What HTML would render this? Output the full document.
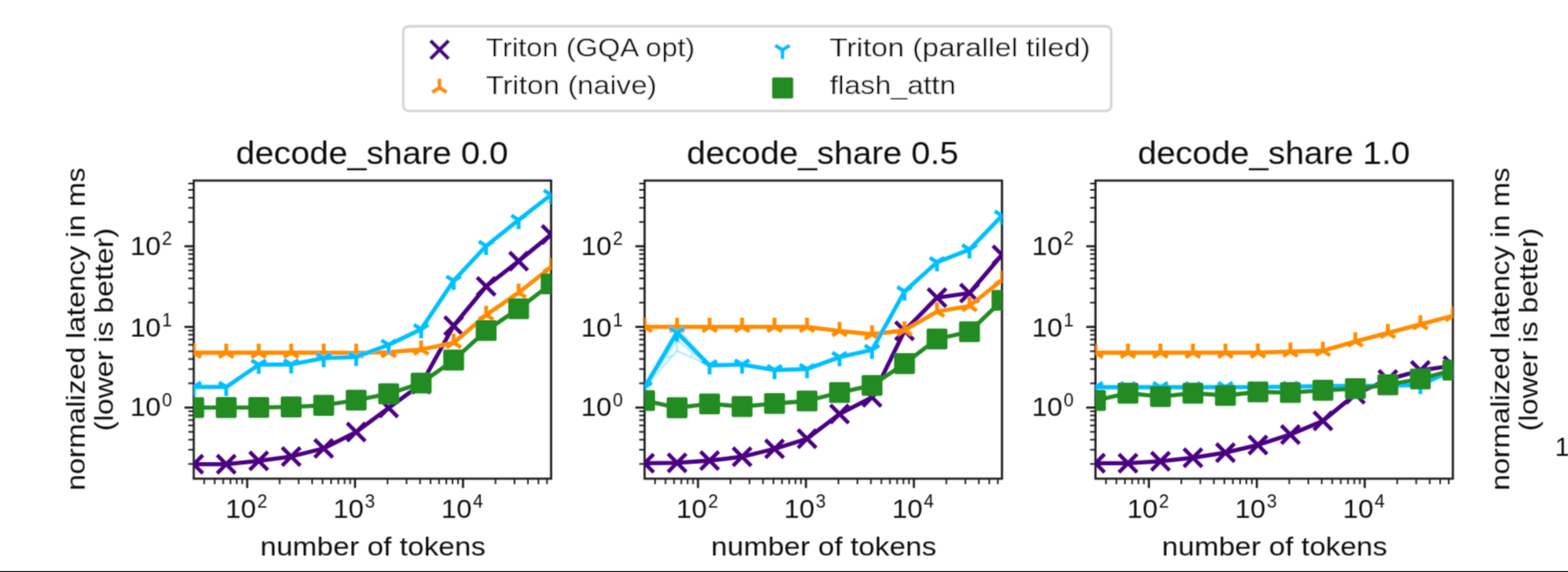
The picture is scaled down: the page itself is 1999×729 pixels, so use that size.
<!DOCTYPE html>
<html><head><meta charset="utf-8"><title>chart</title>
<style>html,body{margin:0;padding:0;background:#fff;overflow:hidden;font-family:"Liberation Sans",sans-serif}svg{display:block}svg text{font-family:"Liberation Sans",sans-serif;fill:#111}</style></head>
<body><svg width="1999" height="729" viewBox="0 0 1999 729">
<rect width="1999" height="729" fill="#fff"/>
<rect x="0" y="727.8" width="1999" height="2" fill="#000"/>
<filter id="bl" filterUnits="userSpaceOnUse" x="-20" y="-20" width="2040" height="770"><feConvolveMatrix order="3" kernelMatrix="0.0529 0.1242 0.0529 0.1242 0.2916 0.1242 0.0529 0.1242 0.0529" edgeMode="none"/></filter>
<g filter="url(#bl)">
<rect x="514.05" y="33.5" width="902.7" height="107.8" rx="6.6" ry="6.6" fill="#fff" stroke="#d6d6d6" stroke-width="3.3"/>
<path d="M548.8 51.8L572 75M548.8 75L572 51.8" stroke="#4B0082" stroke-width="4.9" fill="none"/>
<path d="M560.3 111.8L560.3 100.2M560.3 111.8L569.58 117.6M560.3 111.8L551.02 117.6" stroke="#FF8C00" stroke-width="4.9" fill="none"/>
<path d="M997.6 63.6L997.6 75.2M997.6 63.6L1006.88 57.8M997.6 63.6L988.32 57.8" stroke="#00BFFF" stroke-width="4.9" fill="none"/>
<rect x="984.2" y="98.5" width="27.2" height="27.2" rx="2.2" fill="#228B22"/>
<text x="619.6" y="71.8" font-size="33.3" textLength="266.4" lengthAdjust="spacingAndGlyphs">Triton (GQA opt)</text>
<text x="619.6" y="119.8" font-size="33.3" textLength="217.9" lengthAdjust="spacingAndGlyphs">Triton (naive)</text>
<text x="1057.5" y="71.8" font-size="33.3" textLength="332.5" lengthAdjust="spacingAndGlyphs">Triton (parallel tiled)</text>
<text x="1057.9" y="119.8" font-size="33.3" textLength="160.6" lengthAdjust="spacingAndGlyphs">flash_attn</text>
<path d="M235.2 519.45H247" stroke="#1a1a1a" stroke-width="2.7"/><path d="M235.2 416.65H247" stroke="#1a1a1a" stroke-width="2.7"/><path d="M235.2 313.85H247" stroke="#1a1a1a" stroke-width="2.7"/><path d="M240.1 591.3H247" stroke="#1a1a1a" stroke-width="2"/><path d="M240.1 573.2H247" stroke="#1a1a1a" stroke-width="2"/><path d="M240.1 560.36H247" stroke="#1a1a1a" stroke-width="2"/><path d="M240.1 550.4H247" stroke="#1a1a1a" stroke-width="2"/><path d="M240.1 542.26H247" stroke="#1a1a1a" stroke-width="2"/><path d="M240.1 535.37H247" stroke="#1a1a1a" stroke-width="2"/><path d="M240.1 529.41H247" stroke="#1a1a1a" stroke-width="2"/><path d="M240.1 524.15H247" stroke="#1a1a1a" stroke-width="2"/><path d="M240.1 488.5H247" stroke="#1a1a1a" stroke-width="2"/><path d="M240.1 470.4H247" stroke="#1a1a1a" stroke-width="2"/><path d="M240.1 457.56H247" stroke="#1a1a1a" stroke-width="2"/><path d="M240.1 447.6H247" stroke="#1a1a1a" stroke-width="2"/><path d="M240.1 439.46H247" stroke="#1a1a1a" stroke-width="2"/><path d="M240.1 432.57H247" stroke="#1a1a1a" stroke-width="2"/><path d="M240.1 426.61H247" stroke="#1a1a1a" stroke-width="2"/><path d="M240.1 421.35H247" stroke="#1a1a1a" stroke-width="2"/><path d="M240.1 385.7H247" stroke="#1a1a1a" stroke-width="2"/><path d="M240.1 367.6H247" stroke="#1a1a1a" stroke-width="2"/><path d="M240.1 354.76H247" stroke="#1a1a1a" stroke-width="2"/><path d="M240.1 344.8H247" stroke="#1a1a1a" stroke-width="2"/><path d="M240.1 336.66H247" stroke="#1a1a1a" stroke-width="2"/><path d="M240.1 329.77H247" stroke="#1a1a1a" stroke-width="2"/><path d="M240.1 323.81H247" stroke="#1a1a1a" stroke-width="2"/><path d="M240.1 318.55H247" stroke="#1a1a1a" stroke-width="2"/><path d="M240.1 282.9H247" stroke="#1a1a1a" stroke-width="2"/><path d="M240.1 264.8H247" stroke="#1a1a1a" stroke-width="2"/><path d="M240.1 251.96H247" stroke="#1a1a1a" stroke-width="2"/><path d="M240.1 242H247" stroke="#1a1a1a" stroke-width="2"/><path d="M240.1 233.86H247" stroke="#1a1a1a" stroke-width="2"/><path d="M315.09 610.05V621.85" stroke="#1a1a1a" stroke-width="2.7"/><path d="M452.67 610.05V621.85" stroke="#1a1a1a" stroke-width="2.7"/><path d="M590.26 610.05V621.85" stroke="#1a1a1a" stroke-width="2.7"/><path d="M260.33 610.05V617.05" stroke="#1a1a1a" stroke-width="2"/><path d="M273.67 610.05V617.05" stroke="#1a1a1a" stroke-width="2"/><path d="M284.56 610.05V617.05" stroke="#1a1a1a" stroke-width="2"/><path d="M293.77 610.05V617.05" stroke="#1a1a1a" stroke-width="2"/><path d="M301.75 610.05V617.05" stroke="#1a1a1a" stroke-width="2"/><path d="M308.79 610.05V617.05" stroke="#1a1a1a" stroke-width="2"/><path d="M356.5 610.05V617.05" stroke="#1a1a1a" stroke-width="2"/><path d="M380.73 610.05V617.05" stroke="#1a1a1a" stroke-width="2"/><path d="M397.92 610.05V617.05" stroke="#1a1a1a" stroke-width="2"/><path d="M411.26 610.05V617.05" stroke="#1a1a1a" stroke-width="2"/><path d="M422.15 610.05V617.05" stroke="#1a1a1a" stroke-width="2"/><path d="M431.36 610.05V617.05" stroke="#1a1a1a" stroke-width="2"/><path d="M439.34 610.05V617.05" stroke="#1a1a1a" stroke-width="2"/><path d="M446.38 610.05V617.05" stroke="#1a1a1a" stroke-width="2"/><path d="M494.09 610.05V617.05" stroke="#1a1a1a" stroke-width="2"/><path d="M518.32 610.05V617.05" stroke="#1a1a1a" stroke-width="2"/><path d="M535.51 610.05V617.05" stroke="#1a1a1a" stroke-width="2"/><path d="M548.84 610.05V617.05" stroke="#1a1a1a" stroke-width="2"/><path d="M559.74 610.05V617.05" stroke="#1a1a1a" stroke-width="2"/><path d="M568.95 610.05V617.05" stroke="#1a1a1a" stroke-width="2"/><path d="M576.93 610.05V617.05" stroke="#1a1a1a" stroke-width="2"/><path d="M583.97 610.05V617.05" stroke="#1a1a1a" stroke-width="2"/><path d="M631.68 610.05V617.05" stroke="#1a1a1a" stroke-width="2"/><path d="M655.91 610.05V617.05" stroke="#1a1a1a" stroke-width="2"/><path d="M673.1 610.05V617.05" stroke="#1a1a1a" stroke-width="2"/><path d="M686.43 610.05V617.05" stroke="#1a1a1a" stroke-width="2"/><path d="M697.33 610.05V617.05" stroke="#1a1a1a" stroke-width="2"/>
<rect x="247" y="230.1" width="455.6" height="379.95" fill="none" stroke="#1a1a1a" stroke-width="2.7"/>
<clipPath id="c0"><rect x="247" y="230.1" width="455.6" height="379.95"/></clipPath>
<g clip-path="url(#c0)" stroke-linejoin="round" fill="none">
<polyline points="247,591.6 288.42,591.6 329.84,587.4 371.25,581.8 412.67,571.5 454.09,550.6 495.51,519.8 536.93,489.7 578.35,415.2 619.76,365 661.18,332.8 702.6,298.8" stroke="#4B0082" stroke-width="5.3"/>
<path d="M235.4 580L258.6 603.2M235.4 603.2L258.6 580" stroke="#4B0082" stroke-width="4.9" fill="none"/>
<path d="M276.82 580L300.02 603.2M276.82 603.2L300.02 580" stroke="#4B0082" stroke-width="4.9" fill="none"/>
<path d="M318.24 575.8L341.44 599M318.24 599L341.44 575.8" stroke="#4B0082" stroke-width="4.9" fill="none"/>
<path d="M359.65 570.2L382.85 593.4M359.65 593.4L382.85 570.2" stroke="#4B0082" stroke-width="4.9" fill="none"/>
<path d="M401.07 559.9L424.27 583.1M401.07 583.1L424.27 559.9" stroke="#4B0082" stroke-width="4.9" fill="none"/>
<path d="M442.49 539L465.69 562.2M442.49 562.2L465.69 539" stroke="#4B0082" stroke-width="4.9" fill="none"/>
<path d="M483.91 508.2L507.11 531.4M483.91 531.4L507.11 508.2" stroke="#4B0082" stroke-width="4.9" fill="none"/>
<path d="M525.33 478.1L548.53 501.3M525.33 501.3L548.53 478.1" stroke="#4B0082" stroke-width="4.9" fill="none"/>
<path d="M566.75 403.6L589.95 426.8M566.75 426.8L589.95 403.6" stroke="#4B0082" stroke-width="4.9" fill="none"/>
<path d="M608.16 353.4L631.36 376.6M608.16 376.6L631.36 353.4" stroke="#4B0082" stroke-width="4.9" fill="none"/>
<path d="M649.58 321.2L672.78 344.4M649.58 344.4L672.78 321.2" stroke="#4B0082" stroke-width="4.9" fill="none"/>
<path d="M691 287.2L714.2 310.4M691 310.4L714.2 287.2" stroke="#4B0082" stroke-width="4.9" fill="none"/>
<polyline points="247,449.5 288.42,449.5 329.84,449.5 371.25,449.5 412.67,449.5 454.09,449.7 495.51,448.9 536.93,445.5 578.35,436.9 619.76,401.4 661.18,373 702.6,340.4" stroke="#FF8C00" stroke-width="5.3"/>
<path d="M247 449.5L247 437.9M247 449.5L256.28 455.3M247 449.5L237.72 455.3" stroke="#FF8C00" stroke-width="4.9" fill="none"/>
<path d="M288.42 449.5L288.42 437.9M288.42 449.5L297.7 455.3M288.42 449.5L279.14 455.3" stroke="#FF8C00" stroke-width="4.9" fill="none"/>
<path d="M329.84 449.5L329.84 437.9M329.84 449.5L339.12 455.3M329.84 449.5L320.56 455.3" stroke="#FF8C00" stroke-width="4.9" fill="none"/>
<path d="M371.25 449.5L371.25 437.9M371.25 449.5L380.53 455.3M371.25 449.5L361.97 455.3" stroke="#FF8C00" stroke-width="4.9" fill="none"/>
<path d="M412.67 449.5L412.67 437.9M412.67 449.5L421.95 455.3M412.67 449.5L403.39 455.3" stroke="#FF8C00" stroke-width="4.9" fill="none"/>
<path d="M454.09 449.7L454.09 438.1M454.09 449.7L463.37 455.5M454.09 449.7L444.81 455.5" stroke="#FF8C00" stroke-width="4.9" fill="none"/>
<path d="M495.51 448.9L495.51 437.3M495.51 448.9L504.79 454.7M495.51 448.9L486.23 454.7" stroke="#FF8C00" stroke-width="4.9" fill="none"/>
<path d="M536.93 445.5L536.93 433.9M536.93 445.5L546.21 451.3M536.93 445.5L527.65 451.3" stroke="#FF8C00" stroke-width="4.9" fill="none"/>
<path d="M578.35 436.9L578.35 425.3M578.35 436.9L587.63 442.7M578.35 436.9L569.07 442.7" stroke="#FF8C00" stroke-width="4.9" fill="none"/>
<path d="M619.76 401.4L619.76 389.8M619.76 401.4L629.04 407.2M619.76 401.4L610.48 407.2" stroke="#FF8C00" stroke-width="4.9" fill="none"/>
<path d="M661.18 373L661.18 361.4M661.18 373L670.46 378.8M661.18 373L651.9 378.8" stroke="#FF8C00" stroke-width="4.9" fill="none"/>
<path d="M702.6 340.4L702.6 328.8M702.6 340.4L711.88 346.2M702.6 340.4L693.32 346.2" stroke="#FF8C00" stroke-width="4.9" fill="none"/>
<polyline points="247,493.2 288.42,493.2 329.84,464.9 371.25,464.5 412.67,456.3 454.09,455 495.51,439.5 536.93,419.6 578.35,357.8 619.76,313.5 661.18,280.3 702.6,248.3" stroke="#00BFFF" stroke-width="5.3"/>
<path d="M247 493.2L247 504.8M247 493.2L256.28 487.4M247 493.2L237.72 487.4" stroke="#00BFFF" stroke-width="4.9" fill="none"/>
<path d="M288.42 493.2L288.42 504.8M288.42 493.2L297.7 487.4M288.42 493.2L279.14 487.4" stroke="#00BFFF" stroke-width="4.9" fill="none"/>
<path d="M329.84 464.9L329.84 476.5M329.84 464.9L339.12 459.1M329.84 464.9L320.56 459.1" stroke="#00BFFF" stroke-width="4.9" fill="none"/>
<path d="M371.25 464.5L371.25 476.1M371.25 464.5L380.53 458.7M371.25 464.5L361.97 458.7" stroke="#00BFFF" stroke-width="4.9" fill="none"/>
<path d="M412.67 456.3L412.67 467.9M412.67 456.3L421.95 450.5M412.67 456.3L403.39 450.5" stroke="#00BFFF" stroke-width="4.9" fill="none"/>
<path d="M454.09 455L454.09 466.6M454.09 455L463.37 449.2M454.09 455L444.81 449.2" stroke="#00BFFF" stroke-width="4.9" fill="none"/>
<path d="M495.51 439.5L495.51 451.1M495.51 439.5L504.79 433.7M495.51 439.5L486.23 433.7" stroke="#00BFFF" stroke-width="4.9" fill="none"/>
<path d="M536.93 419.6L536.93 431.2M536.93 419.6L546.21 413.8M536.93 419.6L527.65 413.8" stroke="#00BFFF" stroke-width="4.9" fill="none"/>
<path d="M578.35 357.8L578.35 369.4M578.35 357.8L587.63 352M578.35 357.8L569.07 352" stroke="#00BFFF" stroke-width="4.9" fill="none"/>
<path d="M619.76 313.5L619.76 325.1M619.76 313.5L629.04 307.7M619.76 313.5L610.48 307.7" stroke="#00BFFF" stroke-width="4.9" fill="none"/>
<path d="M661.18 280.3L661.18 291.9M661.18 280.3L670.46 274.5M661.18 280.3L651.9 274.5" stroke="#00BFFF" stroke-width="4.9" fill="none"/>
<path d="M702.6 248.3L702.6 259.9M702.6 248.3L711.88 242.5M702.6 248.3L693.32 242.5" stroke="#00BFFF" stroke-width="4.9" fill="none"/>
<polyline points="247,519.5 288.42,519.4 329.84,519.3 371.25,518.6 412.67,516.6 454.09,510 495.51,501.9 536.93,488.3 578.35,458.9 619.76,421.3 661.18,393.5 702.6,361.8" stroke="#228B22" stroke-width="5.3"/>
<rect x="233.7" y="506.2" width="26.6" height="26.6" rx="2.2" fill="#228B22"/>
<rect x="275.12" y="506.1" width="26.6" height="26.6" rx="2.2" fill="#228B22"/>
<rect x="316.54" y="506" width="26.6" height="26.6" rx="2.2" fill="#228B22"/>
<rect x="357.95" y="505.3" width="26.6" height="26.6" rx="2.2" fill="#228B22"/>
<rect x="399.37" y="503.3" width="26.6" height="26.6" rx="2.2" fill="#228B22"/>
<rect x="440.79" y="496.7" width="26.6" height="26.6" rx="2.2" fill="#228B22"/>
<rect x="482.21" y="488.6" width="26.6" height="26.6" rx="2.2" fill="#228B22"/>
<rect x="523.63" y="475" width="26.6" height="26.6" rx="2.2" fill="#228B22"/>
<rect x="565.05" y="445.6" width="26.6" height="26.6" rx="2.2" fill="#228B22"/>
<rect x="606.46" y="408" width="26.6" height="26.6" rx="2.2" fill="#228B22"/>
<rect x="647.88" y="380.2" width="26.6" height="26.6" rx="2.2" fill="#228B22"/>
<rect x="689.3" y="348.5" width="26.6" height="26.6" rx="2.2" fill="#228B22"/>
</g>
<text x="474.4" y="209" font-size="40" text-anchor="middle" textLength="347.2" lengthAdjust="spacingAndGlyphs">decode_share 0.0</text>
<text x="475.4" y="707.6" font-size="33" text-anchor="middle" textLength="287.3" lengthAdjust="spacingAndGlyphs">number of tokens</text>
<text x="166" y="324.9" font-size="33" textLength="39" lengthAdjust="spacingAndGlyphs">10</text>
<text x="206.5" y="312.1" font-size="23">2</text>
<text x="166" y="429" font-size="33" textLength="39" lengthAdjust="spacingAndGlyphs">10</text>
<text x="206.5" y="415.8" font-size="23">1</text>
<text x="166" y="529.8" font-size="33" textLength="39" lengthAdjust="spacingAndGlyphs">10</text>
<text x="206.5" y="518.1" font-size="23">0</text>
<text x="287.5" y="659.5" font-size="33" textLength="39" lengthAdjust="spacingAndGlyphs">10</text>
<text x="328" y="646.7" font-size="23">2</text>
<text x="424.8" y="659.5" font-size="33" textLength="39" lengthAdjust="spacingAndGlyphs">10</text>
<text x="465.3" y="646.7" font-size="23">3</text>
<text x="562.5" y="659.5" font-size="33" textLength="39" lengthAdjust="spacingAndGlyphs">10</text>
<text x="603" y="646.7" font-size="23">4</text>
<path d="M810 519.45H821.8" stroke="#1a1a1a" stroke-width="2.7"/><path d="M810 416.65H821.8" stroke="#1a1a1a" stroke-width="2.7"/><path d="M810 313.85H821.8" stroke="#1a1a1a" stroke-width="2.7"/><path d="M814.9 591.3H821.8" stroke="#1a1a1a" stroke-width="2"/><path d="M814.9 573.2H821.8" stroke="#1a1a1a" stroke-width="2"/><path d="M814.9 560.36H821.8" stroke="#1a1a1a" stroke-width="2"/><path d="M814.9 550.4H821.8" stroke="#1a1a1a" stroke-width="2"/><path d="M814.9 542.26H821.8" stroke="#1a1a1a" stroke-width="2"/><path d="M814.9 535.37H821.8" stroke="#1a1a1a" stroke-width="2"/><path d="M814.9 529.41H821.8" stroke="#1a1a1a" stroke-width="2"/><path d="M814.9 524.15H821.8" stroke="#1a1a1a" stroke-width="2"/><path d="M814.9 488.5H821.8" stroke="#1a1a1a" stroke-width="2"/><path d="M814.9 470.4H821.8" stroke="#1a1a1a" stroke-width="2"/><path d="M814.9 457.56H821.8" stroke="#1a1a1a" stroke-width="2"/><path d="M814.9 447.6H821.8" stroke="#1a1a1a" stroke-width="2"/><path d="M814.9 439.46H821.8" stroke="#1a1a1a" stroke-width="2"/><path d="M814.9 432.57H821.8" stroke="#1a1a1a" stroke-width="2"/><path d="M814.9 426.61H821.8" stroke="#1a1a1a" stroke-width="2"/><path d="M814.9 421.35H821.8" stroke="#1a1a1a" stroke-width="2"/><path d="M814.9 385.7H821.8" stroke="#1a1a1a" stroke-width="2"/><path d="M814.9 367.6H821.8" stroke="#1a1a1a" stroke-width="2"/><path d="M814.9 354.76H821.8" stroke="#1a1a1a" stroke-width="2"/><path d="M814.9 344.8H821.8" stroke="#1a1a1a" stroke-width="2"/><path d="M814.9 336.66H821.8" stroke="#1a1a1a" stroke-width="2"/><path d="M814.9 329.77H821.8" stroke="#1a1a1a" stroke-width="2"/><path d="M814.9 323.81H821.8" stroke="#1a1a1a" stroke-width="2"/><path d="M814.9 318.55H821.8" stroke="#1a1a1a" stroke-width="2"/><path d="M814.9 282.9H821.8" stroke="#1a1a1a" stroke-width="2"/><path d="M814.9 264.8H821.8" stroke="#1a1a1a" stroke-width="2"/><path d="M814.9 251.96H821.8" stroke="#1a1a1a" stroke-width="2"/><path d="M814.9 242H821.8" stroke="#1a1a1a" stroke-width="2"/><path d="M814.9 233.86H821.8" stroke="#1a1a1a" stroke-width="2"/><path d="M889.89 610.05V621.85" stroke="#1a1a1a" stroke-width="2.7"/><path d="M1027.47 610.05V621.85" stroke="#1a1a1a" stroke-width="2.7"/><path d="M1165.06 610.05V621.85" stroke="#1a1a1a" stroke-width="2.7"/><path d="M835.13 610.05V617.05" stroke="#1a1a1a" stroke-width="2"/><path d="M848.47 610.05V617.05" stroke="#1a1a1a" stroke-width="2"/><path d="M859.36 610.05V617.05" stroke="#1a1a1a" stroke-width="2"/><path d="M868.57 610.05V617.05" stroke="#1a1a1a" stroke-width="2"/><path d="M876.55 610.05V617.05" stroke="#1a1a1a" stroke-width="2"/><path d="M883.59 610.05V617.05" stroke="#1a1a1a" stroke-width="2"/><path d="M931.3 610.05V617.05" stroke="#1a1a1a" stroke-width="2"/><path d="M955.53 610.05V617.05" stroke="#1a1a1a" stroke-width="2"/><path d="M972.72 610.05V617.05" stroke="#1a1a1a" stroke-width="2"/><path d="M986.06 610.05V617.05" stroke="#1a1a1a" stroke-width="2"/><path d="M996.95 610.05V617.05" stroke="#1a1a1a" stroke-width="2"/><path d="M1006.16 610.05V617.05" stroke="#1a1a1a" stroke-width="2"/><path d="M1014.14 610.05V617.05" stroke="#1a1a1a" stroke-width="2"/><path d="M1021.18 610.05V617.05" stroke="#1a1a1a" stroke-width="2"/><path d="M1068.89 610.05V617.05" stroke="#1a1a1a" stroke-width="2"/><path d="M1093.12 610.05V617.05" stroke="#1a1a1a" stroke-width="2"/><path d="M1110.31 610.05V617.05" stroke="#1a1a1a" stroke-width="2"/><path d="M1123.64 610.05V617.05" stroke="#1a1a1a" stroke-width="2"/><path d="M1134.54 610.05V617.05" stroke="#1a1a1a" stroke-width="2"/><path d="M1143.75 610.05V617.05" stroke="#1a1a1a" stroke-width="2"/><path d="M1151.73 610.05V617.05" stroke="#1a1a1a" stroke-width="2"/><path d="M1158.77 610.05V617.05" stroke="#1a1a1a" stroke-width="2"/><path d="M1206.48 610.05V617.05" stroke="#1a1a1a" stroke-width="2"/><path d="M1230.71 610.05V617.05" stroke="#1a1a1a" stroke-width="2"/><path d="M1247.9 610.05V617.05" stroke="#1a1a1a" stroke-width="2"/><path d="M1261.23 610.05V617.05" stroke="#1a1a1a" stroke-width="2"/><path d="M1272.13 610.05V617.05" stroke="#1a1a1a" stroke-width="2"/>
<rect x="821.8" y="230.1" width="455.6" height="379.95" fill="none" stroke="#1a1a1a" stroke-width="2.7"/>
<clipPath id="c1"><rect x="821.8" y="230.1" width="455.6" height="379.95"/></clipPath>
<g clip-path="url(#c1)" stroke-linejoin="round" fill="none">
<polyline points="821.8,590.3 863.22,589.8 904.64,587 946.05,582.2 987.47,572 1028.89,559.2 1070.31,527.6 1111.73,506.4 1153.15,421.6 1194.56,379.3 1235.98,373.5 1277.4,324.8" stroke="#4B0082" stroke-width="5.3"/>
<path d="M810.2 578.7L833.4 601.9M810.2 601.9L833.4 578.7" stroke="#4B0082" stroke-width="4.9" fill="none"/>
<path d="M851.62 578.2L874.82 601.4M851.62 601.4L874.82 578.2" stroke="#4B0082" stroke-width="4.9" fill="none"/>
<path d="M893.04 575.4L916.24 598.6M893.04 598.6L916.24 575.4" stroke="#4B0082" stroke-width="4.9" fill="none"/>
<path d="M934.45 570.6L957.65 593.8M934.45 593.8L957.65 570.6" stroke="#4B0082" stroke-width="4.9" fill="none"/>
<path d="M975.87 560.4L999.07 583.6M975.87 583.6L999.07 560.4" stroke="#4B0082" stroke-width="4.9" fill="none"/>
<path d="M1017.29 547.6L1040.49 570.8M1017.29 570.8L1040.49 547.6" stroke="#4B0082" stroke-width="4.9" fill="none"/>
<path d="M1058.71 516L1081.91 539.2M1058.71 539.2L1081.91 516" stroke="#4B0082" stroke-width="4.9" fill="none"/>
<path d="M1100.13 494.8L1123.33 518M1100.13 518L1123.33 494.8" stroke="#4B0082" stroke-width="4.9" fill="none"/>
<path d="M1141.55 410L1164.75 433.2M1141.55 433.2L1164.75 410" stroke="#4B0082" stroke-width="4.9" fill="none"/>
<path d="M1182.96 367.7L1206.16 390.9M1182.96 390.9L1206.16 367.7" stroke="#4B0082" stroke-width="4.9" fill="none"/>
<path d="M1224.38 361.9L1247.58 385.1M1224.38 385.1L1247.58 361.9" stroke="#4B0082" stroke-width="4.9" fill="none"/>
<path d="M1265.8 313.2L1289 336.4M1265.8 336.4L1289 313.2" stroke="#4B0082" stroke-width="4.9" fill="none"/>
<polyline points="821.8,416.7 863.22,416.7 904.64,416.7 946.05,416.7 987.47,416.6 1028.89,416.7 1070.31,421.8 1111.73,426 1153.15,421 1194.56,397.2 1235.98,390 1277.4,356.9" stroke="#FF8C00" stroke-width="5.3"/>
<path d="M821.8 416.7L821.8 405.1M821.8 416.7L831.08 422.5M821.8 416.7L812.52 422.5" stroke="#FF8C00" stroke-width="4.9" fill="none"/>
<path d="M863.22 416.7L863.22 405.1M863.22 416.7L872.5 422.5M863.22 416.7L853.94 422.5" stroke="#FF8C00" stroke-width="4.9" fill="none"/>
<path d="M904.64 416.7L904.64 405.1M904.64 416.7L913.92 422.5M904.64 416.7L895.36 422.5" stroke="#FF8C00" stroke-width="4.9" fill="none"/>
<path d="M946.05 416.7L946.05 405.1M946.05 416.7L955.33 422.5M946.05 416.7L936.77 422.5" stroke="#FF8C00" stroke-width="4.9" fill="none"/>
<path d="M987.47 416.6L987.47 405M987.47 416.6L996.75 422.4M987.47 416.6L978.19 422.4" stroke="#FF8C00" stroke-width="4.9" fill="none"/>
<path d="M1028.89 416.7L1028.89 405.1M1028.89 416.7L1038.17 422.5M1028.89 416.7L1019.61 422.5" stroke="#FF8C00" stroke-width="4.9" fill="none"/>
<path d="M1070.31 421.8L1070.31 410.2M1070.31 421.8L1079.59 427.6M1070.31 421.8L1061.03 427.6" stroke="#FF8C00" stroke-width="4.9" fill="none"/>
<path d="M1111.73 426L1111.73 414.4M1111.73 426L1121.01 431.8M1111.73 426L1102.45 431.8" stroke="#FF8C00" stroke-width="4.9" fill="none"/>
<path d="M1153.15 421L1153.15 409.4M1153.15 421L1162.43 426.8M1153.15 421L1143.87 426.8" stroke="#FF8C00" stroke-width="4.9" fill="none"/>
<path d="M1194.56 397.2L1194.56 385.6M1194.56 397.2L1203.84 403M1194.56 397.2L1185.28 403" stroke="#FF8C00" stroke-width="4.9" fill="none"/>
<path d="M1235.98 390L1235.98 378.4M1235.98 390L1245.26 395.8M1235.98 390L1226.7 395.8" stroke="#FF8C00" stroke-width="4.9" fill="none"/>
<path d="M1277.4 356.9L1277.4 345.3M1277.4 356.9L1286.68 362.7M1277.4 356.9L1268.12 362.7" stroke="#FF8C00" stroke-width="4.9" fill="none"/>
<polyline points="821.8,493.4 863.22,447.3 904.64,465.7" stroke="#00BFFF" stroke-width="2.6" opacity="0.28"/>
<polyline points="821.8,493.4 863.22,434.3 904.64,465.7" stroke="#00BFFF" stroke-width="2.6" opacity="0.28"/>
<polyline points="821.8,493.4 863.22,417.5 904.64,465.7" stroke="#00BFFF" stroke-width="2.6" opacity="0.28"/>
<path d="M862.85 436.1V447.65M849.4 456.3L857.1 453.4M882.05 449.6V454.4" stroke="#00BFFF" stroke-width="2.6" opacity="0.28"/>
<polyline points="821.8,493.4 863.22,423.8 904.64,465.7 946.05,464.7 987.47,471.7 1028.89,470.3 1070.31,455.2 1111.73,446 1153.15,371.5 1194.56,334.2 1235.98,318 1277.4,274.9" stroke="#00BFFF" stroke-width="5.3"/>
<path d="M821.8 493.4L821.8 505M821.8 493.4L831.08 487.6M821.8 493.4L812.52 487.6" stroke="#00BFFF" stroke-width="4.9" fill="none"/>
<path d="M863.22 423.8L863.22 435.4M863.22 423.8L872.5 418M863.22 423.8L853.94 418" stroke="#00BFFF" stroke-width="4.9" fill="none"/>
<path d="M904.64 465.7L904.64 477.3M904.64 465.7L913.92 459.9M904.64 465.7L895.36 459.9" stroke="#00BFFF" stroke-width="4.9" fill="none"/>
<path d="M946.05 464.7L946.05 476.3M946.05 464.7L955.33 458.9M946.05 464.7L936.77 458.9" stroke="#00BFFF" stroke-width="4.9" fill="none"/>
<path d="M987.47 471.7L987.47 483.3M987.47 471.7L996.75 465.9M987.47 471.7L978.19 465.9" stroke="#00BFFF" stroke-width="4.9" fill="none"/>
<path d="M1028.89 470.3L1028.89 481.9M1028.89 470.3L1038.17 464.5M1028.89 470.3L1019.61 464.5" stroke="#00BFFF" stroke-width="4.9" fill="none"/>
<path d="M1070.31 455.2L1070.31 466.8M1070.31 455.2L1079.59 449.4M1070.31 455.2L1061.03 449.4" stroke="#00BFFF" stroke-width="4.9" fill="none"/>
<path d="M1111.73 446L1111.73 457.6M1111.73 446L1121.01 440.2M1111.73 446L1102.45 440.2" stroke="#00BFFF" stroke-width="4.9" fill="none"/>
<path d="M1153.15 371.5L1153.15 383.1M1153.15 371.5L1162.43 365.7M1153.15 371.5L1143.87 365.7" stroke="#00BFFF" stroke-width="4.9" fill="none"/>
<path d="M1194.56 334.2L1194.56 345.8M1194.56 334.2L1203.84 328.4M1194.56 334.2L1185.28 328.4" stroke="#00BFFF" stroke-width="4.9" fill="none"/>
<path d="M1235.98 318L1235.98 329.6M1235.98 318L1245.26 312.2M1235.98 318L1226.7 312.2" stroke="#00BFFF" stroke-width="4.9" fill="none"/>
<path d="M1277.4 274.9L1277.4 286.5M1277.4 274.9L1286.68 269.1M1277.4 274.9L1268.12 269.1" stroke="#00BFFF" stroke-width="4.9" fill="none"/>
<polyline points="821.8,510.5 863.22,519.6 904.64,514.7 946.05,518.1 987.47,514.3 1028.89,511 1070.31,500.3 1111.73,491.2 1153.15,463.4 1194.56,432 1235.98,422.8 1277.4,382.8" stroke="#228B22" stroke-width="5.3"/>
<rect x="808.5" y="497.2" width="26.6" height="26.6" rx="2.2" fill="#228B22"/>
<rect x="849.92" y="506.3" width="26.6" height="26.6" rx="2.2" fill="#228B22"/>
<rect x="891.34" y="501.4" width="26.6" height="26.6" rx="2.2" fill="#228B22"/>
<rect x="932.75" y="504.8" width="26.6" height="26.6" rx="2.2" fill="#228B22"/>
<rect x="974.17" y="501" width="26.6" height="26.6" rx="2.2" fill="#228B22"/>
<rect x="1015.59" y="497.7" width="26.6" height="26.6" rx="2.2" fill="#228B22"/>
<rect x="1057.01" y="487" width="26.6" height="26.6" rx="2.2" fill="#228B22"/>
<rect x="1098.43" y="477.9" width="26.6" height="26.6" rx="2.2" fill="#228B22"/>
<rect x="1139.85" y="450.1" width="26.6" height="26.6" rx="2.2" fill="#228B22"/>
<rect x="1181.26" y="418.7" width="26.6" height="26.6" rx="2.2" fill="#228B22"/>
<rect x="1222.68" y="409.5" width="26.6" height="26.6" rx="2.2" fill="#228B22"/>
<rect x="1264.1" y="369.5" width="26.6" height="26.6" rx="2.2" fill="#228B22"/>
</g>
<text x="1048.8" y="209" font-size="40" text-anchor="middle" textLength="346.4" lengthAdjust="spacingAndGlyphs">decode_share 0.5</text>
<text x="1050.2" y="707.6" font-size="33" text-anchor="middle" textLength="287.3" lengthAdjust="spacingAndGlyphs">number of tokens</text>
<text x="740.8" y="324.9" font-size="33" textLength="39" lengthAdjust="spacingAndGlyphs">10</text>
<text x="781.3" y="312.1" font-size="23">2</text>
<text x="740.8" y="429" font-size="33" textLength="39" lengthAdjust="spacingAndGlyphs">10</text>
<text x="781.3" y="415.8" font-size="23">1</text>
<text x="740.8" y="529.8" font-size="33" textLength="39" lengthAdjust="spacingAndGlyphs">10</text>
<text x="781.3" y="518.1" font-size="23">0</text>
<text x="862.3" y="659.5" font-size="33" textLength="39" lengthAdjust="spacingAndGlyphs">10</text>
<text x="902.8" y="646.7" font-size="23">2</text>
<text x="999.6" y="659.5" font-size="33" textLength="39" lengthAdjust="spacingAndGlyphs">10</text>
<text x="1040.1" y="646.7" font-size="23">3</text>
<text x="1137.3" y="659.5" font-size="33" textLength="39" lengthAdjust="spacingAndGlyphs">10</text>
<text x="1177.8" y="646.7" font-size="23">4</text>
<path d="M1384.8 519.45H1396.6" stroke="#1a1a1a" stroke-width="2.7"/><path d="M1384.8 416.65H1396.6" stroke="#1a1a1a" stroke-width="2.7"/><path d="M1384.8 313.85H1396.6" stroke="#1a1a1a" stroke-width="2.7"/><path d="M1389.7 591.3H1396.6" stroke="#1a1a1a" stroke-width="2"/><path d="M1389.7 573.2H1396.6" stroke="#1a1a1a" stroke-width="2"/><path d="M1389.7 560.36H1396.6" stroke="#1a1a1a" stroke-width="2"/><path d="M1389.7 550.4H1396.6" stroke="#1a1a1a" stroke-width="2"/><path d="M1389.7 542.26H1396.6" stroke="#1a1a1a" stroke-width="2"/><path d="M1389.7 535.37H1396.6" stroke="#1a1a1a" stroke-width="2"/><path d="M1389.7 529.41H1396.6" stroke="#1a1a1a" stroke-width="2"/><path d="M1389.7 524.15H1396.6" stroke="#1a1a1a" stroke-width="2"/><path d="M1389.7 488.5H1396.6" stroke="#1a1a1a" stroke-width="2"/><path d="M1389.7 470.4H1396.6" stroke="#1a1a1a" stroke-width="2"/><path d="M1389.7 457.56H1396.6" stroke="#1a1a1a" stroke-width="2"/><path d="M1389.7 447.6H1396.6" stroke="#1a1a1a" stroke-width="2"/><path d="M1389.7 439.46H1396.6" stroke="#1a1a1a" stroke-width="2"/><path d="M1389.7 432.57H1396.6" stroke="#1a1a1a" stroke-width="2"/><path d="M1389.7 426.61H1396.6" stroke="#1a1a1a" stroke-width="2"/><path d="M1389.7 421.35H1396.6" stroke="#1a1a1a" stroke-width="2"/><path d="M1389.7 385.7H1396.6" stroke="#1a1a1a" stroke-width="2"/><path d="M1389.7 367.6H1396.6" stroke="#1a1a1a" stroke-width="2"/><path d="M1389.7 354.76H1396.6" stroke="#1a1a1a" stroke-width="2"/><path d="M1389.7 344.8H1396.6" stroke="#1a1a1a" stroke-width="2"/><path d="M1389.7 336.66H1396.6" stroke="#1a1a1a" stroke-width="2"/><path d="M1389.7 329.77H1396.6" stroke="#1a1a1a" stroke-width="2"/><path d="M1389.7 323.81H1396.6" stroke="#1a1a1a" stroke-width="2"/><path d="M1389.7 318.55H1396.6" stroke="#1a1a1a" stroke-width="2"/><path d="M1389.7 282.9H1396.6" stroke="#1a1a1a" stroke-width="2"/><path d="M1389.7 264.8H1396.6" stroke="#1a1a1a" stroke-width="2"/><path d="M1389.7 251.96H1396.6" stroke="#1a1a1a" stroke-width="2"/><path d="M1389.7 242H1396.6" stroke="#1a1a1a" stroke-width="2"/><path d="M1389.7 233.86H1396.6" stroke="#1a1a1a" stroke-width="2"/><path d="M1464.69 610.05V621.85" stroke="#1a1a1a" stroke-width="2.7"/><path d="M1602.27 610.05V621.85" stroke="#1a1a1a" stroke-width="2.7"/><path d="M1739.86 610.05V621.85" stroke="#1a1a1a" stroke-width="2.7"/><path d="M1409.93 610.05V617.05" stroke="#1a1a1a" stroke-width="2"/><path d="M1423.27 610.05V617.05" stroke="#1a1a1a" stroke-width="2"/><path d="M1434.16 610.05V617.05" stroke="#1a1a1a" stroke-width="2"/><path d="M1443.37 610.05V617.05" stroke="#1a1a1a" stroke-width="2"/><path d="M1451.35 610.05V617.05" stroke="#1a1a1a" stroke-width="2"/><path d="M1458.39 610.05V617.05" stroke="#1a1a1a" stroke-width="2"/><path d="M1506.1 610.05V617.05" stroke="#1a1a1a" stroke-width="2"/><path d="M1530.33 610.05V617.05" stroke="#1a1a1a" stroke-width="2"/><path d="M1547.52 610.05V617.05" stroke="#1a1a1a" stroke-width="2"/><path d="M1560.86 610.05V617.05" stroke="#1a1a1a" stroke-width="2"/><path d="M1571.75 610.05V617.05" stroke="#1a1a1a" stroke-width="2"/><path d="M1580.96 610.05V617.05" stroke="#1a1a1a" stroke-width="2"/><path d="M1588.94 610.05V617.05" stroke="#1a1a1a" stroke-width="2"/><path d="M1595.98 610.05V617.05" stroke="#1a1a1a" stroke-width="2"/><path d="M1643.69 610.05V617.05" stroke="#1a1a1a" stroke-width="2"/><path d="M1667.92 610.05V617.05" stroke="#1a1a1a" stroke-width="2"/><path d="M1685.11 610.05V617.05" stroke="#1a1a1a" stroke-width="2"/><path d="M1698.44 610.05V617.05" stroke="#1a1a1a" stroke-width="2"/><path d="M1709.34 610.05V617.05" stroke="#1a1a1a" stroke-width="2"/><path d="M1718.55 610.05V617.05" stroke="#1a1a1a" stroke-width="2"/><path d="M1726.53 610.05V617.05" stroke="#1a1a1a" stroke-width="2"/><path d="M1733.57 610.05V617.05" stroke="#1a1a1a" stroke-width="2"/><path d="M1781.28 610.05V617.05" stroke="#1a1a1a" stroke-width="2"/><path d="M1805.51 610.05V617.05" stroke="#1a1a1a" stroke-width="2"/><path d="M1822.7 610.05V617.05" stroke="#1a1a1a" stroke-width="2"/><path d="M1836.03 610.05V617.05" stroke="#1a1a1a" stroke-width="2"/><path d="M1846.93 610.05V617.05" stroke="#1a1a1a" stroke-width="2"/>
<rect x="1396.6" y="230.1" width="455.6" height="379.95" fill="none" stroke="#1a1a1a" stroke-width="2.7"/>
<clipPath id="c2"><rect x="1396.6" y="230.1" width="455.6" height="379.95"/></clipPath>
<g clip-path="url(#c2)" stroke-linejoin="round" fill="none">
<polyline points="1396.6,590.4 1438.02,590.4 1479.44,587.9 1520.85,583.3 1562.27,576.9 1603.69,567.1 1645.11,553.8 1686.53,536.4 1727.95,502.4 1769.36,483.6 1810.78,472.2 1852.2,466" stroke="#4B0082" stroke-width="5.3"/>
<path d="M1385 578.8L1408.2 602M1385 602L1408.2 578.8" stroke="#4B0082" stroke-width="4.9" fill="none"/>
<path d="M1426.42 578.8L1449.62 602M1426.42 602L1449.62 578.8" stroke="#4B0082" stroke-width="4.9" fill="none"/>
<path d="M1467.84 576.3L1491.04 599.5M1467.84 599.5L1491.04 576.3" stroke="#4B0082" stroke-width="4.9" fill="none"/>
<path d="M1509.25 571.7L1532.45 594.9M1509.25 594.9L1532.45 571.7" stroke="#4B0082" stroke-width="4.9" fill="none"/>
<path d="M1550.67 565.3L1573.87 588.5M1550.67 588.5L1573.87 565.3" stroke="#4B0082" stroke-width="4.9" fill="none"/>
<path d="M1592.09 555.5L1615.29 578.7M1592.09 578.7L1615.29 555.5" stroke="#4B0082" stroke-width="4.9" fill="none"/>
<path d="M1633.51 542.2L1656.71 565.4M1633.51 565.4L1656.71 542.2" stroke="#4B0082" stroke-width="4.9" fill="none"/>
<path d="M1674.93 524.8L1698.13 548M1674.93 548L1698.13 524.8" stroke="#4B0082" stroke-width="4.9" fill="none"/>
<path d="M1716.35 490.8L1739.55 514M1716.35 514L1739.55 490.8" stroke="#4B0082" stroke-width="4.9" fill="none"/>
<path d="M1757.76 472L1780.96 495.2M1757.76 495.2L1780.96 472" stroke="#4B0082" stroke-width="4.9" fill="none"/>
<path d="M1799.18 460.6L1822.38 483.8M1799.18 483.8L1822.38 460.6" stroke="#4B0082" stroke-width="4.9" fill="none"/>
<path d="M1840.6 454.4L1863.8 477.6M1840.6 477.6L1863.8 454.4" stroke="#4B0082" stroke-width="4.9" fill="none"/>
<polyline points="1396.6,449.5 1438.02,449.5 1479.44,449.5 1520.85,449.5 1562.27,449.5 1603.69,449.4 1645.11,448.2 1686.53,447 1727.95,435.1 1769.36,424.4 1810.78,413.4 1852.2,402.5" stroke="#FF8C00" stroke-width="5.3"/>
<path d="M1396.6 449.5L1396.6 437.9M1396.6 449.5L1405.88 455.3M1396.6 449.5L1387.32 455.3" stroke="#FF8C00" stroke-width="4.9" fill="none"/>
<path d="M1438.02 449.5L1438.02 437.9M1438.02 449.5L1447.3 455.3M1438.02 449.5L1428.74 455.3" stroke="#FF8C00" stroke-width="4.9" fill="none"/>
<path d="M1479.44 449.5L1479.44 437.9M1479.44 449.5L1488.72 455.3M1479.44 449.5L1470.16 455.3" stroke="#FF8C00" stroke-width="4.9" fill="none"/>
<path d="M1520.85 449.5L1520.85 437.9M1520.85 449.5L1530.13 455.3M1520.85 449.5L1511.57 455.3" stroke="#FF8C00" stroke-width="4.9" fill="none"/>
<path d="M1562.27 449.5L1562.27 437.9M1562.27 449.5L1571.55 455.3M1562.27 449.5L1552.99 455.3" stroke="#FF8C00" stroke-width="4.9" fill="none"/>
<path d="M1603.69 449.4L1603.69 437.8M1603.69 449.4L1612.97 455.2M1603.69 449.4L1594.41 455.2" stroke="#FF8C00" stroke-width="4.9" fill="none"/>
<path d="M1645.11 448.2L1645.11 436.6M1645.11 448.2L1654.39 454M1645.11 448.2L1635.83 454" stroke="#FF8C00" stroke-width="4.9" fill="none"/>
<path d="M1686.53 447L1686.53 435.4M1686.53 447L1695.81 452.8M1686.53 447L1677.25 452.8" stroke="#FF8C00" stroke-width="4.9" fill="none"/>
<path d="M1727.95 435.1L1727.95 423.5M1727.95 435.1L1737.23 440.9M1727.95 435.1L1718.67 440.9" stroke="#FF8C00" stroke-width="4.9" fill="none"/>
<path d="M1769.36 424.4L1769.36 412.8M1769.36 424.4L1778.64 430.2M1769.36 424.4L1760.08 430.2" stroke="#FF8C00" stroke-width="4.9" fill="none"/>
<path d="M1810.78 413.4L1810.78 401.8M1810.78 413.4L1820.06 419.2M1810.78 413.4L1801.5 419.2" stroke="#FF8C00" stroke-width="4.9" fill="none"/>
<path d="M1852.2 402.5L1852.2 390.9M1852.2 402.5L1861.48 408.3M1852.2 402.5L1842.92 408.3" stroke="#FF8C00" stroke-width="4.9" fill="none"/>
<polyline points="1396.6,493.5 1438.02,493.5 1479.44,493.5 1520.85,493.5 1562.27,493.4 1603.69,493.3 1645.11,492.8 1686.53,492 1727.95,491.8 1769.36,491.6 1810.78,490.6 1852.2,471.8" stroke="#00BFFF" stroke-width="5.3"/>
<path d="M1396.6 493.5L1396.6 505.1M1396.6 493.5L1405.88 487.7M1396.6 493.5L1387.32 487.7" stroke="#00BFFF" stroke-width="4.9" fill="none"/>
<path d="M1438.02 493.5L1438.02 505.1M1438.02 493.5L1447.3 487.7M1438.02 493.5L1428.74 487.7" stroke="#00BFFF" stroke-width="4.9" fill="none"/>
<path d="M1479.44 493.5L1479.44 505.1M1479.44 493.5L1488.72 487.7M1479.44 493.5L1470.16 487.7" stroke="#00BFFF" stroke-width="4.9" fill="none"/>
<path d="M1520.85 493.5L1520.85 505.1M1520.85 493.5L1530.13 487.7M1520.85 493.5L1511.57 487.7" stroke="#00BFFF" stroke-width="4.9" fill="none"/>
<path d="M1562.27 493.4L1562.27 505M1562.27 493.4L1571.55 487.6M1562.27 493.4L1552.99 487.6" stroke="#00BFFF" stroke-width="4.9" fill="none"/>
<path d="M1603.69 493.3L1603.69 504.9M1603.69 493.3L1612.97 487.5M1603.69 493.3L1594.41 487.5" stroke="#00BFFF" stroke-width="4.9" fill="none"/>
<path d="M1645.11 492.8L1645.11 504.4M1645.11 492.8L1654.39 487M1645.11 492.8L1635.83 487" stroke="#00BFFF" stroke-width="4.9" fill="none"/>
<path d="M1686.53 492L1686.53 503.6M1686.53 492L1695.81 486.2M1686.53 492L1677.25 486.2" stroke="#00BFFF" stroke-width="4.9" fill="none"/>
<path d="M1727.95 491.8L1727.95 503.4M1727.95 491.8L1737.23 486M1727.95 491.8L1718.67 486" stroke="#00BFFF" stroke-width="4.9" fill="none"/>
<path d="M1769.36 491.6L1769.36 503.2M1769.36 491.6L1778.64 485.8M1769.36 491.6L1760.08 485.8" stroke="#00BFFF" stroke-width="4.9" fill="none"/>
<path d="M1810.78 490.6L1810.78 502.2M1810.78 490.6L1820.06 484.8M1810.78 490.6L1801.5 484.8" stroke="#00BFFF" stroke-width="4.9" fill="none"/>
<path d="M1852.2 471.8L1852.2 483.4M1852.2 471.8L1861.48 466M1852.2 471.8L1842.92 466" stroke="#00BFFF" stroke-width="4.9" fill="none"/>
<polyline points="1396.6,510.4 1438.02,501.1 1479.44,505.4 1520.85,501.1 1562.27,504 1603.69,499.5 1645.11,500.3 1686.53,497.4 1727.95,495.3 1769.36,490.4 1810.78,483 1852.2,471.8" stroke="#228B22" stroke-width="5.3"/>
<rect x="1383.3" y="497.1" width="26.6" height="26.6" rx="2.2" fill="#228B22"/>
<rect x="1424.72" y="487.8" width="26.6" height="26.6" rx="2.2" fill="#228B22"/>
<rect x="1466.14" y="492.1" width="26.6" height="26.6" rx="2.2" fill="#228B22"/>
<rect x="1507.55" y="487.8" width="26.6" height="26.6" rx="2.2" fill="#228B22"/>
<rect x="1548.97" y="490.7" width="26.6" height="26.6" rx="2.2" fill="#228B22"/>
<rect x="1590.39" y="486.2" width="26.6" height="26.6" rx="2.2" fill="#228B22"/>
<rect x="1631.81" y="487" width="26.6" height="26.6" rx="2.2" fill="#228B22"/>
<rect x="1673.23" y="484.1" width="26.6" height="26.6" rx="2.2" fill="#228B22"/>
<rect x="1714.65" y="482" width="26.6" height="26.6" rx="2.2" fill="#228B22"/>
<rect x="1756.06" y="477.1" width="26.6" height="26.6" rx="2.2" fill="#228B22"/>
<rect x="1797.48" y="469.7" width="26.6" height="26.6" rx="2.2" fill="#228B22"/>
<rect x="1838.9" y="458.5" width="26.6" height="26.6" rx="2.2" fill="#228B22"/>
</g>
<text x="1624" y="209" font-size="40" text-anchor="middle" textLength="347.2" lengthAdjust="spacingAndGlyphs">decode_share 1.0</text>
<text x="1625" y="707.6" font-size="33" text-anchor="middle" textLength="287.3" lengthAdjust="spacingAndGlyphs">number of tokens</text>
<text x="1315.6" y="324.9" font-size="33" textLength="39" lengthAdjust="spacingAndGlyphs">10</text>
<text x="1356.1" y="312.1" font-size="23">2</text>
<text x="1315.6" y="429" font-size="33" textLength="39" lengthAdjust="spacingAndGlyphs">10</text>
<text x="1356.1" y="415.8" font-size="23">1</text>
<text x="1315.6" y="529.8" font-size="33" textLength="39" lengthAdjust="spacingAndGlyphs">10</text>
<text x="1356.1" y="518.1" font-size="23">0</text>
<text x="1437.1" y="659.5" font-size="33" textLength="39" lengthAdjust="spacingAndGlyphs">10</text>
<text x="1477.6" y="646.7" font-size="23">2</text>
<text x="1574.4" y="659.5" font-size="33" textLength="39" lengthAdjust="spacingAndGlyphs">10</text>
<text x="1614.9" y="646.7" font-size="23">3</text>
<text x="1712.1" y="659.5" font-size="33" textLength="39" lengthAdjust="spacingAndGlyphs">10</text>
<text x="1752.6" y="646.7" font-size="23">4</text>
<text transform="translate(107.5 419.4) rotate(-90)" font-size="33" text-anchor="middle" textLength="411.8" lengthAdjust="spacingAndGlyphs">normalized latency in ms</text>
<text transform="translate(143.9 420.1) rotate(-90)" font-size="33" text-anchor="middle" textLength="259" lengthAdjust="spacingAndGlyphs">(lower is better)</text>
<text transform="translate(1924 419.4) rotate(-90)" font-size="33" text-anchor="middle" textLength="411.8" lengthAdjust="spacingAndGlyphs">normalized latency in ms</text>
<text transform="translate(1960.4 420.1) rotate(-90)" font-size="33" text-anchor="middle" textLength="259" lengthAdjust="spacingAndGlyphs">(lower is better)</text>
<text x="1982.5" y="580.7" font-size="33">1</text>
</g>
</svg></body></html>
